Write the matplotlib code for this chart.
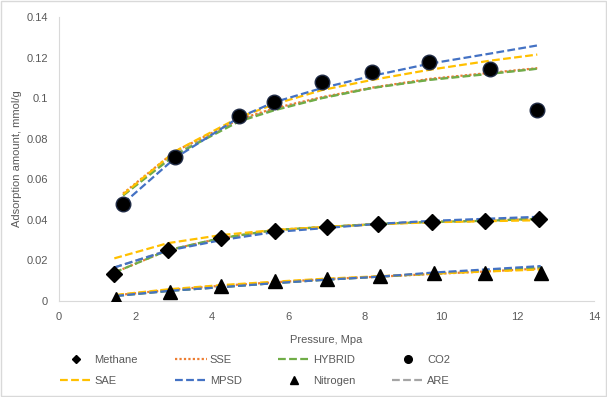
import matplotlib
matplotlib.use("Agg")
import matplotlib.pyplot as plt
from matplotlib.lines import Line2D

plt.rcParams['font.family'] = ['Liberation Sans', 'DejaVu Sans']

# measured data
methane_p = [1.45, 2.85, 4.25, 5.65, 7.0, 8.35, 9.75, 11.15, 12.55]
methane_q = [0.0135, 0.025, 0.031, 0.0345, 0.0365, 0.038, 0.039, 0.0395, 0.0405]
co2_p = [1.68, 3.04, 4.71, 5.63, 6.88, 8.19, 9.69, 11.28, 12.51]
co2_q = [0.0478, 0.071, 0.0912, 0.098, 0.108, 0.113, 0.1178, 0.1144, 0.0942]
n2_p = [1.5, 2.9, 4.25, 5.65, 7.0, 8.4, 9.8, 11.15, 12.6]
n2_q = [0.001, 0.0045, 0.0075, 0.0098, 0.011, 0.0125, 0.014, 0.014, 0.014]

# fitted curves (error functions), per gas
co2_sse = [0.053, 0.0738, 0.0895, 0.095, 0.1005, 0.1052, 0.1095, 0.1125, 0.1148]
co2_hybrid = [0.052, 0.072, 0.0885, 0.094, 0.1, 0.105, 0.109, 0.112, 0.1145]
co2_sae = [0.0525, 0.0738, 0.0905, 0.097, 0.104, 0.109, 0.114, 0.1185, 0.1215]
co2_mpsd = [0.048, 0.0705, 0.0905, 0.098, 0.105, 0.111, 0.117, 0.122, 0.126]
co2_are = [0.0522, 0.0725, 0.089, 0.0945, 0.1002, 0.1051, 0.1092, 0.1122, 0.1146]

ch4_sse = [0.014, 0.025, 0.031, 0.035, 0.0365, 0.038, 0.039, 0.0395, 0.0405]
ch4_hybrid = [0.014, 0.025, 0.031, 0.035, 0.0365, 0.038, 0.039, 0.0395, 0.0405]
ch4_sae = [0.021, 0.0285, 0.0325, 0.035, 0.0365, 0.0378, 0.0388, 0.0393, 0.0398]
ch4_mpsd = [0.0165, 0.0248, 0.030, 0.034, 0.036, 0.038, 0.0395, 0.0405, 0.0415]
ch4_are = [0.0165, 0.025, 0.031, 0.0348, 0.0365, 0.038, 0.039, 0.0398, 0.0408]

n2_sse = [0.0028, 0.0055, 0.0075, 0.0092, 0.0108, 0.012, 0.0133, 0.0145, 0.016]
n2_hybrid = [0.0025, 0.005, 0.0068, 0.0088, 0.0105, 0.012, 0.0135, 0.0148, 0.0165]
n2_sae = [0.003, 0.0058, 0.0078, 0.0095, 0.011, 0.0122, 0.0135, 0.0145, 0.0155]
n2_mpsd = [0.0025, 0.005, 0.0068, 0.0088, 0.0105, 0.012, 0.014, 0.0155, 0.0172]
n2_are = [0.0025, 0.005, 0.0068, 0.0088, 0.0105, 0.012, 0.0136, 0.015, 0.0167]

x_ticks = [0, 2, 4, 6, 8, 10, 12, 14]
y_ticks = [0, 0.02, 0.04, 0.06, 0.08, 0.1, 0.12, 0.14]

c_sse = '#ED7D31'
c_hyb = '#70AD47'
c_sae = '#FFC000'
c_mpsd = '#4472C4'
c_are = '#A5A5A5'
txt = '#595959'

fig = plt.figure(figsize=(6.07, 3.97), dpi=100)
fig.patches.append(plt.Rectangle((0.002, 0.003), 0.996, 0.994, transform=fig.transFigure,
                                 fill=False, edgecolor='#D9D9D9', linewidth=1))
ax = fig.add_axes([0.097, 0.242, 0.882, 0.715])

fits = [
    (co2_p, co2_sse, co2_hybrid, co2_sae, co2_mpsd, co2_are),
    (methane_p, ch4_sse, ch4_hybrid, ch4_sae, ch4_mpsd, ch4_are),
    (n2_p, n2_sse, n2_hybrid, n2_sae, n2_mpsd, n2_are),
]
for p, sse, hyb, sae, mpsd, are in fits:
    ax.plot(p, are, color=c_are, ls=(0, (3.5, 1.5)), lw=1.6)
    ax.plot(p, sse, color=c_sse, ls=(0, (1, 1)), lw=1.6)
    ax.plot(p, hyb, color=c_hyb, ls=(0, (3.5, 1.5)), lw=1.6)
    ax.plot(p, sae, color=c_sae, ls=(0, (3.5, 1.5)), lw=1.6)
    ax.plot(p, mpsd, color=c_mpsd, ls=(0, (3.5, 1.5)), lw=1.6)

ax.plot(methane_p, methane_q, 'D', color='black', ms=8, ls='none', zorder=5)
ax.plot(co2_p, co2_q, 'o', color='black', mec='#1F2A44', ms=10.5, ls='none', zorder=5)
ax.plot(n2_p, n2_q, '^', color='black', ms=9.5, ls='none', zorder=5)

ax.set_xlim(0, 14)
ax.set_ylim(0, 0.14)
ax.set_xticks(x_ticks)
ax.set_yticks(y_ticks)
ax.set_xticklabels([f'{v:g}' for v in x_ticks])
ax.set_yticklabels([f'{v:g}' for v in y_ticks])
ax.tick_params(length=0, labelsize=8, colors=txt, pad=8)
for s in ['top', 'right']:
    ax.spines[s].set_visible(False)
for s in ['left', 'bottom']:
    ax.spines[s].set_color('#D9D9D9')
ax.set_xlabel('Pressure, Mpa', fontsize=8, color=txt, labelpad=9)
ax.set_ylabel('Adsorption amount, mmol/g', fontsize=8, color=txt, labelpad=3)

dash = (0, (3.5, 1.5))
handles = [
    Line2D([], [], marker='D', color='black', ls='none', ms=4.5),
    Line2D([], [], color=c_sse, ls=(0, (1, 1)), lw=1.6),
    Line2D([], [], color=c_hyb, ls=dash, lw=1.6),
    Line2D([], [], marker='o', color='black', ls='none', ms=5.5),
    Line2D([], [], color=c_sae, ls=dash, lw=1.6),
    Line2D([], [], color=c_mpsd, ls=dash, lw=1.6),
    Line2D([], [], marker='^', color='black', ls='none', ms=5.5),
    Line2D([], [], color=c_are, ls=dash, lw=1.6),
]
labels = ['Methane', 'SSE', 'HYBRID', 'CO2', 'SAE', 'MPSD', 'Nitrogen', 'ARE']
# legend fills row by row
order = [0, 4, 1, 5, 2, 6, 3, 7]
leg = fig.legend([handles[i] for i in order], [labels[i] for i in order],
                 loc='center', bbox_to_anchor=(0.42, 0.066), ncol=4, frameon=False,
                 fontsize=8, handlelength=2.9, columnspacing=3.3, handletextpad=0.25,
                 labelspacing=1.0)
for t in leg.get_texts():
    t.set_color(txt)

fig.savefig('out.png', dpi=100)
